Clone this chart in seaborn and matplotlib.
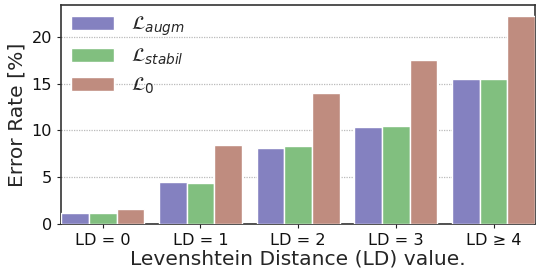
import matplotlib
matplotlib.use("Agg")
import matplotlib.pyplot as plt
import seaborn as sns
import pandas as pd

categories = ["LD = 0", "LD = 1", "LD = 2", "LD = 3", "LD ≥ 4"]
series_names = [r"$\mathcal{L}_{augm}$", r"$\mathcal{L}_{stabil}$", r"$\mathcal{L}_{0}$"]
augm = [1.18, 4.5, 8.13, 10.37, 15.5]
stabil = [1.18, 4.4, 8.34, 10.48, 15.5]
l0 = [1.6, 8.45, 14.0, 17.54, 22.25]
colors = ["#8481C0", "#81BF7F", "#BF8C7F"]

rows = []
for name, vals in zip(series_names, [augm, stabil, l0]):
    for c, v in zip(categories, vals):
        rows.append({"LD": c, "Error": v, "Loss": name})
df = pd.DataFrame(rows)

sns.set_style("ticks")
plt.rcParams["font.family"] = ["DejaVu Sans"]

fig = plt.figure(figsize=(5.41, 2.71), dpi=100)
ax = fig.add_axes([0.113, 0.173, 0.876, 0.809])
width = 0.85
sns.barplot(data=df, x="LD", y="Error", hue="Loss", palette=colors, width=width,
            edgecolor="white", linewidth=1.0, saturation=1, ax=ax, zorder=3)
ax.set_xlim(-width / 2, len(categories) - 1 + width / 2)
ax.set_ylim(0, 23.4)
ax.set_yticks([0, 5, 10, 15, 20])
ax.yaxis.grid(True, linestyle=(0, (1, 1)), color="#bbbbbb", linewidth=0.9, zorder=0)
ax.set_axisbelow(True)
ax.tick_params(labelsize=11.6, length=3, color="#222222", labelcolor="#111111")
ax.set_xlabel("Levenshtein Distance (LD) value.", fontsize=14.6, labelpad=1)
ax.set_ylabel("Error Rate [%]", fontsize=14.6, labelpad=4)
for s in ax.spines.values():
    s.set_color("#333333")
    s.set_linewidth(1.2)
leg = ax.legend(loc="upper left", frameon=False, fontsize=14, handlelength=2.2,
                handleheight=0.72, labelspacing=0.45, handletextpad=0.9,
                borderaxespad=0.2, borderpad=0.3)
fig.savefig("out.png", dpi=100)
